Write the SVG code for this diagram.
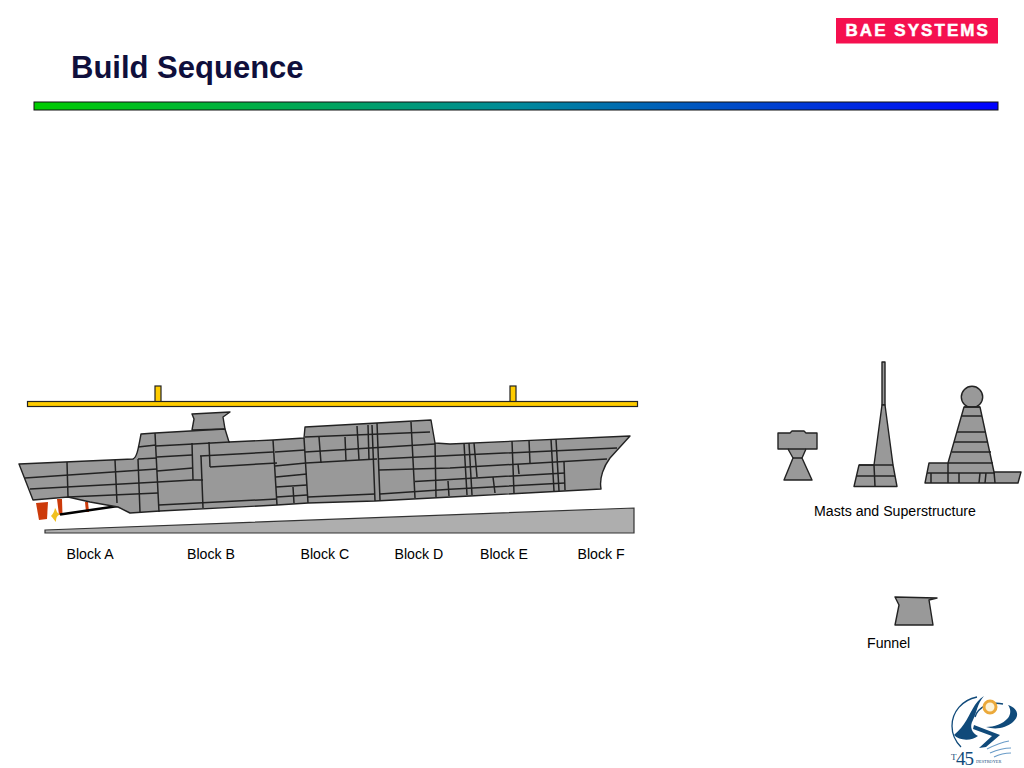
<svg xmlns="http://www.w3.org/2000/svg" width="1024" height="768" viewBox="0 0 1024 768">
<style>
text{font-family:"Liberation Sans",Arial,sans-serif;fill:#000}
.lbl{font-size:14.150px}
.hull{fill:#999;stroke:#222;stroke-width:1.400;stroke-linejoin:round}
.ln{fill:none;stroke:#222;stroke-width:1.500}
.yel{fill:#fc0;stroke:#222;stroke-width:1.200}
.red{fill:#cc3a0a}
.navy{fill:#104a7a}
</style>
<defs>
<linearGradient id="bar" x1="0" y1="0" x2="1" y2="0">
<stop offset="0" stop-color="#00cc00"/><stop offset=".5" stop-color="#008a9a"/><stop offset="1" stop-color="#0000ff"/>
</linearGradient>
</defs>
<rect width="1024" height="768" fill="#fff"/>
<g id="title"><text x="71" y="78" font-size="31" font-weight="700" style="fill:#0f0f3c">Build Sequence</text></g>
<g id="header-bar"><rect x="34" y="102" width="964" height="8" fill="url(#bar)" stroke="#111" stroke-width="1"/></g>
<g id="bae-logo"><rect x="836" y="18" width="162" height="25.500" fill="#f5104f"/>
<text x="845.500" y="36" font-size="17" font-weight="700" letter-spacing="2.050" style="fill:#fff;stroke:#fff;stroke-width:.5">BAE SYSTEMS</text></g>
<g id="crane-beam">
<rect class="yel" x="155" y="386" width="6" height="16"/><rect class="yel" x="510" y="386" width="6" height="16"/>
<rect class="yel" x="27.500" y="401.500" width="610" height="5"/></g>
<g id="slipway"><path d="M45 530L634 508V533H45Z" fill="#aeaeae" stroke="#333" stroke-width="1.200"/></g>
<g id="stern-gear">
<path class="red" d="M36 503L48 502L47 519L39 520Z"/>
<path class="red" d="M57 499L62 499L62.500 515L59 515Z"/>
<path class="red" d="M85 502L88 502L89 512L86 512Z"/>
<path d="M60 514.500L118 506" stroke="#000" stroke-width="2.500" fill="none"/>
<path d="M55 508C57 510 56 513 60 514C58 516 56 516 56 522C54 520 53 518 51 516C52 515 54 513 55 508Z" fill="#f0c020"/>
</g>
<g id="hull">
<path class="hull" d="M192 414L230 412L223 417L225 429L192 430L194 419Z"/>
<path class="hull" d="M19 464L133 459C137 457 138 450 141 434L155 433L225 429L229 442L273 440L304 438L305 427L377 423L431 420L435 443L450 444L630 436L610 458C604 466 599 478 601 489L470 496L375 501L308 503L277 505L160 511L130 513L118 507L90 502L68 497L33 500Z"/>
</g>
<g id="block-lines">
<path class="ln" d="M25 478L157 469M157 471L193 468M210 467L277 463M138 447L156 445M156 446L230 442M138 459L157 458M157 457L192 455M200 456L273 452M30 489L158 482L193 480L203 480M68 497L158 493M159 505L277 499"/>
<path class="ln" d="M67 462L68 497M115 460L117 503M138 459L140 512M155 433L159 512M192 443L193 480M201 456L203 508M209 442L210 467M273 440L277 505"/>
<path class="ln" d="M304 438L308 503M319 437L321 463M345 437L346 461M357 426L359 460M368 425L369 460M372 425L375 501M377 423L380 500M411 422L415 498M435 443L436 497M448 481L449 496M293 487L294 503"/>
<path class="ln" d="M305 437L430 432M275 452L305 450M305 452L435 444M275 466L306 463L377 459M378 459L450 455.500L617 448M276 477L307 474M276 487L307 485M277 497L307 495M308 497L375 494M380 494L450 489.300L565 483M379 470L450 468L607 459M415 481.500L565 473"/>
<path class="ln" d="M464 443L467 495M469 443L472 495M474 443L477 477M512 441L514 493M529 440L530 463M518 464L519 474M493 477L495 493M551 439L554 491M556 439L559 491M564 462L565 490"/>
</g>
<g id="labels-blocks">
<text class="lbl" x="66.500" y="559">Block A</text>
<text class="lbl" x="187" y="559">Block B</text>
<text class="lbl" x="300.500" y="559">Block C</text>
<text class="lbl" x="394.500" y="559">Block D</text>
<text class="lbl" x="480" y="559">Block E</text>
<text class="lbl" x="577.500" y="559">Block F</text>
</g>
<g id="mast-1">
<path class="hull" d="M778 433H790L792 431H804L806 433H817V449H806L802 458L812 480H784L793 458L788 449H778Z"/>
<path class="ln" d="M788 449H806M793 458H802"/>
</g>
<g id="mast-2">
<path class="hull" d="M882 362H885V405H882Z"/>
<path class="hull" d="M882 405H885L893 465L897 486.500H854L859 465H874Z"/>
<path class="ln" d="M859 465H893M857 476H895M874 465L875 486.500"/>
</g>
<g id="mast-3">
<circle class="hull" cx="972" cy="397" r="10.700"/>
<path class="hull" d="M964 407H980L994 472H1021L1018 483H925L929 463H948Z"/>
<path class="ln" d="M964 407H980M961 416H982M957 432H986M954 442H988M952 452H991M948 463H993M927 473H995M931 473V483M948 463V483M959 473V483M980 473L979 483M986 473L985 483M994 472L995 483"/>
</g>
<g id="label-masts"><text class="lbl" x="814" y="515.500">Masts and Superstructure</text></g>
<g id="funnel"><path class="hull" d="M895 597L937 598L929 600L933 625H895L899 605Z"/></g>
<g id="label-funnel"><text class="lbl" x="867" y="648">Funnel</text></g>
<g id="t45-logo">
<path d="M977 697C962 700 952 712 952 726C952 734 955 741 961 747" fill="none" stroke="#104a7a" stroke-width="1.300"/>
<path class="navy" d="M984 696C974 702 971 714 964 724C960 730 956 733 954 735C959 741 972 741 978 736C972 733 969 727 973 720C977 712 977 704 984 696Z"/>
<path d="M975 717C978 707 990 701 1003 704" fill="none" stroke="#104a7a" stroke-width="1.500"/>
<path class="navy" d="M1008 705C1018 708 1020 716 1013 722C1006 728 996 730 986 727C994 727 1003 724 1008 718C1011 714 1011 709 1008 705Z"/>
<circle cx="990" cy="707" r="6" fill="#fdf3d8" stroke="#eba93a" stroke-width="3"/>
<path class="navy" d="M974 725L1000 735L986 747L979 748L992 736L973 729Z"/>
<path d="M987 749C995 745 1003 742 1009 741M990 753C997 750 1005 748 1011 748M994 757C1000 754 1006 753 1011 753" fill="none" stroke="#6a9cc8" stroke-width="1.200"/>
<text x="951" y="760" font-size="9" style="font-family:'Liberation Serif',serif;fill:#104a7a">T</text>
<text x="956" y="765" font-size="19" letter-spacing="-1" style="font-family:'Liberation Serif',serif;fill:#104a7a">45</text>
<text x="976" y="763" font-size="4.300" style="font-family:'Liberation Serif',serif;fill:#104a7a">DESTROYER</text>
</g>
</svg>
